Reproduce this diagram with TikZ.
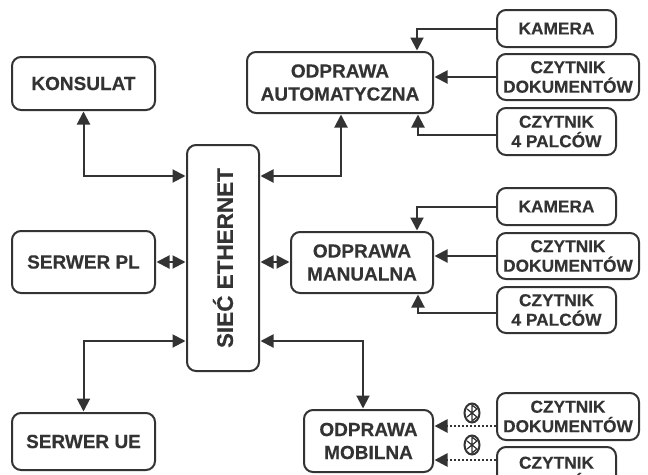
\documentclass[tikz,border=0pt]{standalone}
\usepackage{fontspec}
\setmainfont[BoldFeatures={FakeBold=0.3}]{Liberation Sans}
\usetikzlibrary{arrows.meta,calc,shapes.geometric}
\definecolor{ink}{HTML}{333333}
\tikzset{
  box/.style={draw=ink,line width=2pt,rounded corners=9pt,fill=white,align=center,inner sep=0pt,
    font=\fontsize{19}{23}\selectfont\bfseries,text=ink},
  small/.style={font=\fontsize{17.3}{19.5}\selectfont\bfseries},
  bi/.style={draw=ink,line width=2pt,{Triangle[length=13pt,width=13pt,fill=ink]}-{Triangle[length=13pt,width=13pt,fill=ink]},shorten <=0.5pt,shorten >=0.5pt},
  uni/.style={draw=ink,line width=2pt,-{Triangle[length=13pt,width=13pt,fill=ink]},shorten >=0.5pt},
  dot/.style={draw=ink,line width=2.6pt,dash pattern=on 2.2pt off 1.8pt,-{Triangle[length=13pt,width=13pt,fill=ink]},shorten >=0.5pt},
}
\newcommand{\bx}[7][]{\node[box,#1,minimum width=#5 pt-#3 pt,minimum height=#6 pt-#4 pt] (#2) at ({(#3+#5)/2},{(#4+#6)/2}) {#7};}
\newcommand{\btooth}[3]{%
  \node[draw=ink,line width=2pt,ellipse,minimum width=15pt,minimum height=19pt,inner sep=0pt] (#1) at (#2,#3) {};
  \draw[ink,line width=1.2pt] ($(#1.center)+(-5,-4)$) -- ($(#1.center)+(5,4)$) -- ($(#1.center)+(0,8)$) -- ($(#1.center)+(0,-8)$) -- ($(#1.center)+(5,-4)$) -- ($(#1.center)+(-5,4)$);}
\begin{document}
\begin{tikzpicture}[x=1pt,y=-1pt]
\useasboundingbox (0,0) rectangle (648,474);
\clip (0,0) rectangle (648,474);
\bx{konsulat}{12}{57}{155}{110}{KONSULAT}
\bx{pl}{12}{231}{155}{293}{SERWER PL}
\bx{ue}{12}{413}{155}{470}{SERWER UE}
\node[box,minimum width=72pt,minimum height=226pt] (siec) at (223,258) {\rotatebox{90}{\fontsize{22.5}{26}\selectfont\bfseries SIEĆ ETHERNET}};
\bx{auto}{247}{52}{433}{113}{ODPRAWA\\AUTOMATYCZNA}
\bx{man}{291}{232}{433}{293}{ODPRAWA\\MANUALNA}
\bx{mob}{304}{410}{433}{472}{ODPRAWA\\MOBILNA}
\bx[small]{kam1}{497}{10}{616}{47}{KAMERA}
\bx[small]{dok1}{497}{54}{639}{100}{CZYTNIK\\DOKUMENTÓW}
\bx[small]{pal1}{497}{108}{616}{155}{CZYTNIK\\4 PALCÓW}
\bx[small]{kam2}{497}{188}{616}{225}{KAMERA}
\bx[small]{dok2}{497}{233}{639}{279}{CZYTNIK\\DOKUMENTÓW}
\bx[small]{pal2}{497}{287}{616}{333}{CZYTNIK\\4 PALCÓW}
\bx[small]{dok3}{497}{393}{639}{440}{CZYTNIK\\DOKUMENTÓW}
\bx[small]{pal3}{497}{447}{616}{498}{CZYTNIK\\4 PALCÓW}
\coordinate (ytop) at (0,176);
\coordinate (ymid) at (0,262);
\coordinate (ybot) at (0,341);
\coordinate (xa) at (341,0);
\coordinate (xm) at (363,0);
\coordinate (xk1) at (417,0);
\coordinate (xk2) at (418,0);
\coordinate (y1) at (0,29);
\coordinate (y2) at (0,77);
\coordinate (y3) at (0,135);
\coordinate (y4) at (0,207);
\coordinate (y5) at (0,256);
\coordinate (y6) at (0,313);
\coordinate (y7) at (0,426);
\coordinate (y8) at (0,460);
\draw[bi] (konsulat.south) |- (siec.west |- ytop);
\draw[bi] (pl.east |- ymid) -- (siec.west |- ymid);
\draw[bi] (ue.north) |- (siec.west |- ybot);
\draw[bi] (auto.south -| xa) |- (siec.east |- ytop);
\draw[bi] (siec.east |- ymid) -- (man.west |- ymid);
\draw[bi] (siec.east |- ybot) -| (mob.north -| xm);
\draw[uni] (kam1.west |- y1) -| (auto.north -| xk1);
\draw[uni] (dok1.west |- y2) -- (auto.east |- y2);
\draw[uni] (pal1.west |- y3) -| (auto.south -| xk2);
\draw[uni] (kam2.west |- y4) -| (man.north -| xk1);
\draw[uni] (dok2.west |- y5) -- (man.east |- y5);
\draw[uni] (pal2.west |- y6) -| (man.south -| xk2);
\draw[dot] (dok3.west |- y7) -- (mob.east |- y7);
\draw[dot] (pal3.west |- y8) -- (mob.east |- y8);
\btooth{bt1}{472}{413}
\btooth{bt2}{472}{445}
\end{tikzpicture}
\end{document}
